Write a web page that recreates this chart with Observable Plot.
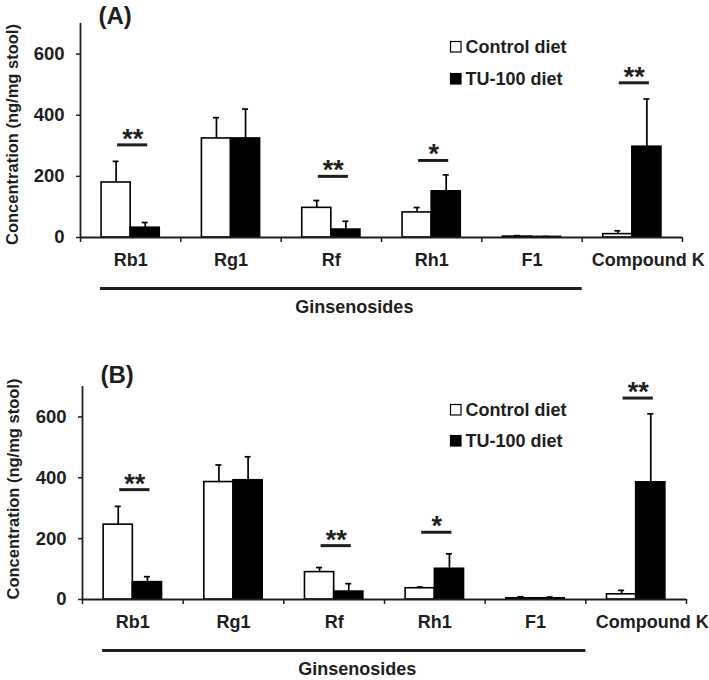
<!DOCTYPE html>
<html>
<head>
<meta charset="utf-8">
<script src="https://cdn.jsdelivr.net/npm/d3@7"></script>
<script src="https://cdn.jsdelivr.net/npm/@observablehq/plot@0.6"></script>
<style>
  html, body { margin: 0; padding: 0; background: #fff; }
  #wrap { position: relative; width: 709px; height: 680px; font-family: "Liberation Sans", Arial, sans-serif; }
  .panel { position: absolute; left: 0; }
  .legend { position: absolute; left: 0; top: 0; }
</style>
</head>
<body>
<div id="wrap">
  <div id="panelA" class="panel" style="top:0px"></div>
  <div id="panelB" class="panel" style="top:340px"></div>
</div>
<script>
// ---------- data ----------
const categories = ["Rb1", "Rg1", "Rf", "Rh1", "F1", "Compound K"];
const diets = ["Control diet", "TU-100 diet"];
const dietColors = ["white", "black"];
const groupLabel = "Ginsenosides";
const groupCount = 5; // Rb1..F1 are ginsenosides
const yLabel = "Concentration (ng/mg stool)";
const yTicks = [0, 200, 400, 600];

// Panel A
const aControl   = [180, 324, 97, 82, 3, 11];
const aControlSE = [69, 68, 24, 16, 3, 11];
const aTU        = [32, 324, 26, 151, 2, 297];
const aTUSE      = [17, 96, 27, 54, 1, 156];
const aSig       = ["**", "", "**", "*", "", "**"];
const aSigY      = [303, null, 200, 252, null, 506];

// Panel B
const bControl   = [246, 386, 90, 37, 4, 17];
const bControlSE = [60, 56, 15, 4, 5, 13];
const bTU        = [57, 392, 26, 101, 4, 385];
const bTUSE      = [18, 77, 26, 49, 4, 225];
const bSig       = ["**", "", "**", "*", "", "**"];
const bSigY      = [361, null, 177, 221, null, 662];

// ---------- drawing ----------
const FONT = "Liberation Sans, Arial, Helvetica, sans-serif";
const INK = "#1e1e1e";

function panel(opts) {
  const {letter, control, controlSE, tu, tuSE, sig, sigY, height, marginTop, marginBottom, marginLeft, marginRight, yLabelDx, yLabelDy} = opts;
  const rows = [];
  categories.forEach((c, i) => {
    rows.push({cat: c, i, diet: diets[0], v: control[i], se: controlSE[i], x1: i + 0.21, x2: i + 0.5});
    rows.push({cat: c, i, diet: diets[1], v: tu[i], se: tuSE[i], x1: i + 0.5, x2: i + 0.79});
  });
  rows.forEach(d => d.mid = (d.x1 + d.x2) / 2);
  const sigRows = categories.map((c, i) => ({i, s: sig[i], y: sigY[i]})).filter(d => d.s);
  const catRows = categories.map((c, i) => ({c, i}));
  const lastIdx = categories.length - 1;
  const gStart = 0.2, gEnd = groupCount;

  return Plot.plot({
    width: 709,
    height, marginTop, marginBottom, marginLeft, marginRight,
    style: {fontFamily: FONT, color: INK, background: "white", overflow: "visible"},
    x: {type: "linear", domain: [0, categories.length]},
    y: {domain: [0, 700]},
    color: {domain: diets, range: dietColors},
    marks: [
      // bars
      Plot.rectY(rows, {x1: "x1", x2: "x2", y1: 0, y2: "v", fill: "diet", stroke: "black", strokeWidth: 1.6}),
      // error bars
      Plot.ruleX(rows, {x: "mid", y1: "v", y2: d => d.v + d.se, stroke: "black", strokeWidth: 1.7}),
      Plot.ruleY(rows, {y: d => d.v + d.se, x1: d => d.mid - 0.03, x2: d => d.mid + 0.03, stroke: "black", strokeWidth: 1.7}),
      // axis lines
      Plot.ruleX([0], {stroke: INK, strokeWidth: 1.8}),
      Plot.ruleY([0], {stroke: INK, strokeWidth: 1.8}),
      Plot.axisY({ticks: yTicks, tickSize: 4, tickPadding: 12, fontSize: 18.5, fontWeight: "bold", label: null, strokeWidth: 1.5}),
      Plot.axisX({ticks: d3.range(categories.length + 1), tickSize: 5, tickFormat: () => "", label: null, strokeWidth: 1.5}),
      // category labels
      Plot.text(catRows.filter(d => d.i < lastIdx), {x: d => d.i + 0.5, y: 0, text: "c", dy: 23, fontSize: 18, fontWeight: "bold", lineAnchor: "middle"}),
      Plot.text(catRows.filter(d => d.i === lastIdx), {x: d => d.i + 0.5, y: 0, text: "c", dy: 23, dx: 16, fontSize: 18, fontWeight: "bold", lineAnchor: "middle"}),
      // group bracket
      Plot.ruleY([0], {x1: gStart, x2: gEnd, dy: 51, stroke: INK, strokeWidth: 3}),
      Plot.text([groupLabel], {x: (gStart + gEnd) / 2, y: 0, text: d => d, dx: 13, dy: 75, fontSize: 18, fontWeight: "bold", lineAnchor: "bottom"}),
      // significance
      Plot.ruleY(sigRows, {y: "y", x1: d => d.i + 0.37, x2: d => d.i + 0.67, stroke: INK, strokeWidth: 3}),
      Plot.text(sigRows, {x: d => d.i + 0.52, y: "y", text: "s", fontSize: 27, fontWeight: "bold", lineAnchor: "bottom", dy: 3}),
      // y label
      Plot.text([yLabel], {frameAnchor: "left", text: d => d, rotate: -90, textAnchor: "middle", lineAnchor: "middle", dx: yLabelDx, dy: yLabelDy, fontSize: 16.5, fontWeight: "bold"}),
      // panel letter
      Plot.text([letter], {frameAnchor: "top-left", text: d => d, textAnchor: "start", lineAnchor: "bottom", dx: 18, dy: opts.letterDy, fontSize: 24, fontWeight: "bold"})
    ]
  });
}

function legend(container, baselines) {
  const svg = d3.select(container).append("svg")
    .attr("class", "legend")
    .attr("width", 709).attr("height", 340)
    .style("position", "absolute").style("left", "0px").style("top", "0px")
    .style("pointer-events", "none");
  diets.forEach((d, k) => {
    const by = baselines[k];
    svg.append("rect").attr("x", 450.5).attr("y", by - 11.5).attr("width", 10.5).attr("height", 10.5)
      .attr("fill", dietColors[k]).attr("stroke", "black").attr("stroke-width", 1.2);
    svg.append("text").attr("x", 465.5).attr("y", by).text(d)
      .attr("font-family", FONT).attr("font-weight", "bold").attr("font-size", 18).attr("fill", INK);
  });
}

const A = panel({
  letter: "(A)", control: aControl, controlSE: aControlSE, tu: aTU, tuSE: aTUSE, sig: aSig, sigY: aSigY,
  height: 330, marginTop: 23, marginBottom: 93, marginLeft: 80, marginRight: 27,
  yLabelDx: -68, yLabelDy: 4, letterDy: 0
});
document.getElementById("panelA").appendChild(A);
legend(document.getElementById("panelA"), [53, 85]);

const B = panel({
  letter: "(B)", control: bControl, controlSE: bControlSE, tu: bTU, tuSE: bTUSE, sig: bSig, sigY: bSigY,
  height: 340, marginTop: 46, marginBottom: 81, marginLeft: 82, marginRight: 23,
  yLabelDx: -69, yLabelDy: -4, letterDy: -4
});
document.getElementById("panelB").appendChild(B);
legend(document.getElementById("panelB"), [416 - 340, 447 - 340]);
</script>
</body>
</html>
